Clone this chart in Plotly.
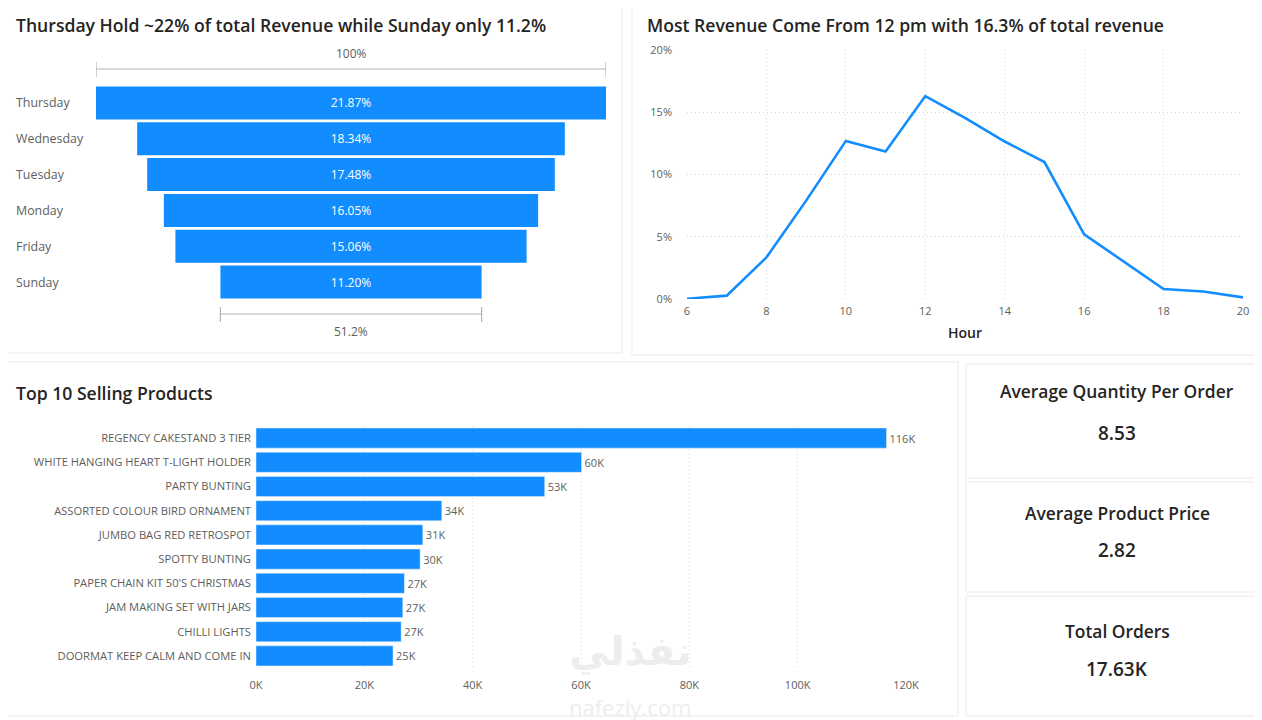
import plotly.graph_objects as go

# --- data ---
days = ["Thursday", "Wednesday", "Tuesday", "Monday", "Friday", "Sunday"]
day_share = [21.87, 18.34, 17.48, 16.05, 15.06, 11.20]

hours = [6, 7, 8, 9, 10, 11, 12, 13, 14, 15, 16, 17, 18, 19, 20]
hour_share = [0.0002, 0.0027, 0.0334, 0.079, 0.127, 0.1185, 0.163, 0.1455,
              0.1265, 0.110, 0.052, 0.030, 0.008, 0.006, 0.0013]

products = ["REGENCY CAKESTAND 3 TIER", "WHITE HANGING HEART T-LIGHT HOLDER",
            "PARTY BUNTING", "ASSORTED COLOUR BIRD ORNAMENT",
            "JUMBO BAG RED RETROSPOT", "SPOTTY BUNTING",
            "PAPER CHAIN KIT 50'S CHRISTMAS", "JAM MAKING SET WITH JARS",
            "CHILLI LIGHTS", "DOORMAT KEEP CALM AND COME IN"]
product_qty = [116400, 60100, 53300, 34300, 30800, 30300, 27400, 27100, 26800, 25300]
qty_ticks = [0, 20000, 40000, 60000, 80000, 100000, 120000]
qty_ticktext = ["0K", "20K", "40K", "60K", "80K", "100K", "120K"]

kpi_names = ["Average Quantity Per Order", "Average Product Price", "Total Orders"]
kpi_values = ["8.53", "2.82", "17.63K"]

BLUE = "#118DFF"
GREY = "#605E5C"
DARK = "#252423"
FONT = "Open Sans"

W, H = 1262, 720
OFF = 8  # page body margin
def px(x):  # pixel -> paper x
    return (x - OFF) / W
def py(y):  # pixel -> paper y
    return 1 - (y - OFF) / H

fig = go.Figure()

# funnel by weekday
fig.add_trace(go.Funnel(
    y=days, x=day_share,
    text=[f"{v:.2f}%" for v in day_share],
    textinfo="text", textposition="inside",
    insidetextfont=dict(color="white", size=12, family=FONT),
    marker=dict(color=BLUE), connector=dict(visible=False),
    xaxis="x", yaxis="y", hoverinfo="skip"))

# revenue share by hour
fig.add_trace(go.Scatter(
    x=hours, y=hour_share, mode="lines", cliponaxis=False,
    line=dict(color=BLUE, width=2.6),
    xaxis="x2", yaxis="y2"))

# top products
fig.add_trace(go.Bar(
    y=products, x=product_qty, orientation="h",
    marker=dict(color=BLUE),
    text=[f"{round(v / 1000)}K" for v in product_qty],
    textposition="outside", cliponaxis=False,
    textfont=dict(size=11, color=GREY, family=FONT),
    xaxis="x3", yaxis="y3"))

top = max(day_share)
low = min(day_share)

shapes = []
# cards
card_line = "#E9E9E9"
for x0, y0, x1, y1 in [(3, 3, 622, 353), (632, 3, 1261, 355),
                       (3, 362, 958, 716), (966, 364, 1261, 478),
                       (966, 482, 1261, 592), (966, 596, 1261, 716)]:
    shapes.append(dict(type="rect", xref="paper", yref="paper",
                       x0=px(x0), x1=px(x1), y0=py(y1), y1=py(y0),
                       line=dict(color=card_line, width=1), layer="below"))

# brackets above / below funnel
br = "#B3B3B3"
for half, yl, yt0, yt1 in [(top / 2, 69, 62, 77), (low / 2, 314, 307, 322)]:
    shapes.append(dict(type="line", xref="x", yref="paper", x0=-half, x1=half,
                       y0=py(yl), y1=py(yl), line=dict(color=br, width=1.2)))
    for xe in (-half, half):
        shapes.append(dict(type="line", xref="x", yref="paper", x0=xe, x1=xe,
                           y0=py(yt0), y1=py(yt1), line=dict(color=br, width=1.2)))

annotations = []
def note(text, x, y, size, color=GREY, weight=400, xref="paper", yref="paper",
         xanchor="center", family=FONT):
    annotations.append(dict(x=x, y=y, xref=xref, yref=yref, text=text,
                            xanchor=xanchor, yanchor="middle", showarrow=False,
                            font=dict(size=size, color=color, family=family,
                                      weight=weight)))

note("100%", 0, py(53), 12, xref="x")
note(f"{low / top * 100:.1f}%", 0, py(332), 12, xref="x")
for d in days:
    note(d, px(14), d, 12.4, yref="y", xanchor="left")

titles = [("Thursday Hold ~22% of total Revenue while Sunday only 11.2%", 14, 25),
          ("Most Revenue Come From 12 pm with 16.3% of total revenue", 645, 25),
          ("Top 10 Selling Products", 14, 393)]
for t, x, y in titles:
    note(t, px(x), py(y), 17.6, color=DARK, weight=600, xanchor="left")

note("Hour", px(965), py(333), 14, color=DARK, weight=600)

kpi_y = [(391, 433), (513, 550), (631, 669)]
for name, val, (yn, yv) in zip(kpi_names, kpi_values, kpi_y):
    note(name, px(1117), py(yn), 17.4, color=DARK, weight=600)
    note(val, px(1117), py(yv), 19, color=DARK, weight=600)

# watermark
note("نفذلي", px(630), py(651), 40, color="#EDEDED", weight=700, family="DejaVu Sans")
note("nafezly.com", px(630), py(707), 22, color="#EDEDED")

grid = dict(showgrid=True, gridcolor="#D6D6D6", griddash="1px,3px", gridwidth=1,
            zeroline=False, automargin=False)

fig.update_layout(
    width=W, height=H,
    margin=dict(l=0, r=0, t=0, b=0, autoexpand=False),
    paper_bgcolor="white", plot_bgcolor="white",
    showlegend=False, funnelgap=0.08, bargap=0.17,
    font=dict(family=FONT, color=GREY),
    shapes=shapes, annotations=annotations,
    xaxis=dict(domain=[px(96), px(606)], range=[-top / 2, top / 2],
               visible=False, fixedrange=True, automargin=False),
    yaxis=dict(domain=[py(300), py(85)], showticklabels=False,
               showgrid=False, zeroline=False, showline=False, automargin=False),
    xaxis2=dict(domain=[px(687), px(1243)], range=[6, 20], anchor="y2",
                tickvals=[6, 8, 10, 12, 14, 16, 18, 20], ticklabelstandoff=4,
                tickfont=dict(size=11, color=GREY), **grid),
    yaxis2=dict(domain=[py(299), py(50)], range=[0, 0.2], anchor="x2",
                tickformat=".0%", dtick=0.05,
                tickfont=dict(size=11, color=GREY), ticklabelstandoff=14, **grid),
    xaxis3=dict(domain=[px(256), px(906)], range=[0, 120000], anchor="y3",
                tickvals=qty_ticks, ticktext=qty_ticktext, ticklabelstandoff=9,
                tickfont=dict(size=11, color=GREY), **grid),
    yaxis3=dict(domain=[py(668), py(426)], anchor="x3", autorange="reversed",
                tickfont=dict(size=11.2, color=GREY), ticklabelstandoff=4,
                showgrid=False, automargin=False),
)

fig.write_html("out.html")
